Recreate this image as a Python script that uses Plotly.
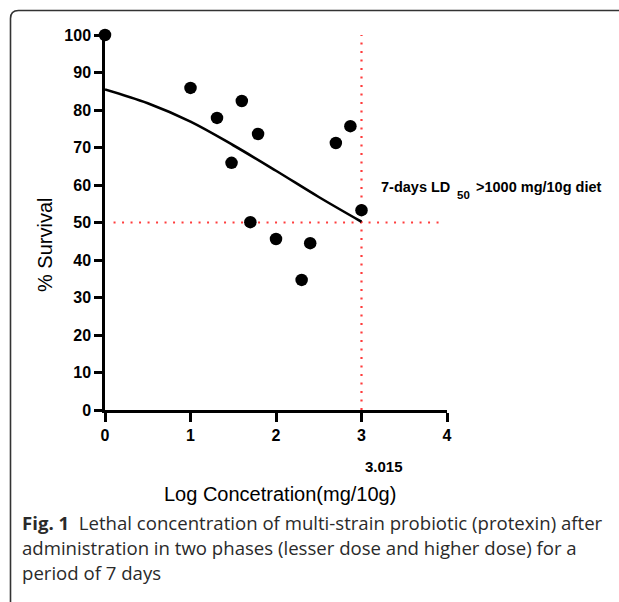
import plotly.graph_objects as go

# Observed data points (log concentration, % survival)
log_conc = [0.0, 1.0, 1.31, 1.48, 1.60, 1.79, 1.70, 2.0, 2.30, 2.40, 2.70, 2.87, 3.0]
survival = [100, 85.9, 77.9, 65.9, 82.4, 73.6, 50.1, 45.6, 34.7, 44.5, 71.2, 75.7, 53.3]

# Fitted curve
fit_x = [0.0, 0.5, 1.0, 1.5, 2.0, 2.5, 3.0]
fit_y = [85.5, 81.8, 76.9, 70.6, 63.8, 56.8, 50.2]

# Reference lines
ld50_x = 3.0
ld50_y = 50
hline_x = [0.1, 3.95]
vline_y = [0, 100.5]

x_ticks = [0, 1, 2, 3, 4]
y_ticks = [0, 10, 20, 30, 40, 50, 60, 70, 80, 90, 100]

L, R, T, B = 105, 172, 35, 192
W, H = 619, 602
pw, ph = W - L - R, H - T - B

def px(xp):
    return (xp - L) / pw

def py(yp):
    return (H - B - yp) / ph

fig = go.Figure()

red = "rgb(255,60,60)"
fig.add_trace(go.Scatter(x=hline_x, y=[ld50_y, ld50_y], mode="lines",
                         line=dict(color=red, width=2.2, dash="2px,6.5px"),
                         hoverinfo="skip", showlegend=False))
fig.add_trace(go.Scatter(x=[ld50_x, ld50_x], y=vline_y, mode="lines",
                         line=dict(color=red, width=2.2, dash="2px,6.5px"),
                         hoverinfo="skip", showlegend=False, cliponaxis=False))
fig.add_trace(go.Scatter(x=fit_x, y=fit_y, mode="lines", line_shape="spline",
                         line=dict(color="black", width=2.6), showlegend=False))
fig.add_trace(go.Scatter(x=log_conc, y=survival, mode="markers",
                         marker=dict(color="black", size=12.5, symbol="circle"),
                         cliponaxis=False, showlegend=False))

tickfont = dict(family="Liberation Sans, Arial", size=16, color="black", weight="bold")

fig.update_xaxes(range=[0, 4], tickvals=x_ticks, ticktext=[str(v) for v in x_ticks],
                 showline=True, linecolor="black", linewidth=2.5,
                 ticks="outside", ticklen=9, tickwidth=2.5, tickcolor="black",
                 showgrid=False, zeroline=False, tickfont=tickfont)
fig.update_yaxes(range=[0, 100], tickvals=y_ticks, ticktext=[str(v) for v in y_ticks],
                 showline=True, linecolor="black", linewidth=2.5,
                 ticks="outside", ticklen=8, tickwidth=2.5, tickcolor="black",
                 showgrid=False, zeroline=False, tickfont=tickfont)

bold14 = dict(family="Liberation Sans, Arial", size=14.5, color="black", weight="bold")
ann = []
ann.append(dict(x=px(379), y=py(187), xref="paper", yref="paper", xanchor="left",
                yanchor="middle", showarrow=False, text="7-days LD", font=bold14))
ann.append(dict(x=px(455), y=py(195), xref="paper", yref="paper", xanchor="left",
                yanchor="middle", showarrow=False, text="50",
                font=dict(family="Liberation Sans, Arial", size=11.5, color="black", weight="bold")))
ann.append(dict(x=px(474), y=py(187), xref="paper", yref="paper", xanchor="left",
                yanchor="middle", showarrow=False, text="&gt;1000 mg/10g diet", font=bold14))
ann.append(dict(x=px(384), y=py(466), xref="paper", yref="paper", xanchor="center",
                yanchor="middle", showarrow=False, text="3.015",
                font=dict(family="Liberation Sans, Arial", size=15, color="black", weight="bold")))
ann.append(dict(x=px(280), y=py(494), xref="paper", yref="paper", xanchor="center",
                yanchor="middle", showarrow=False, text="Log Concetration(mg/10g)",
                font=dict(family="Liberation Sans, Arial", size=20, color="black")))
ann.append(dict(x=px(45), y=py(245), xref="paper", yref="paper", xanchor="center",
                yanchor="middle", showarrow=False, text="% Survival", textangle=-90,
                font=dict(family="Liberation Sans, Arial", size=20, color="black")))

cap_font = dict(family="Open Sans", size=18.6, color="#2a2a2a")
cap_lines = [
    "<b>Fig. 1</b>  Lethal concentration of multi-strain probiotic (protexin) after",
    "administration in two phases (lesser dose and higher dose) for a",
    "period of 7 days",
]
cap_y = [522, 547, 572]
for t, yy in zip(cap_lines, cap_y):
    ann.append(dict(x=px(20), y=py(yy), xref="paper", yref="paper", xanchor="left",
                    yanchor="middle", showarrow=False, text=t, font=cap_font))

# Frame (rounded top-left corner)
xl, xr, yt, yb, r = px(10.5), px(640), py(10.5), py(602), 8
path = (f"M {xl},{yb} L {xl},{py(10.5 + r)} Q {xl},{yt} {px(10.5 + r)},{yt} L {xr},{yt}")

fig.update_layout(
    width=W, height=H, autosize=False,
    margin=dict(l=L, r=R, t=T, b=B),
    plot_bgcolor="white", paper_bgcolor="white",
    annotations=ann,
    shapes=[dict(type="path", path=path, xref="paper", yref="paper",
                 line=dict(color="#333", width=1.6), layer="below")],
    showlegend=False,
)

fig.write_html("out.html", config={"displayModeBar": False},
               post_script="document.body.style.margin='0';document.body.style.overflow='hidden';")
